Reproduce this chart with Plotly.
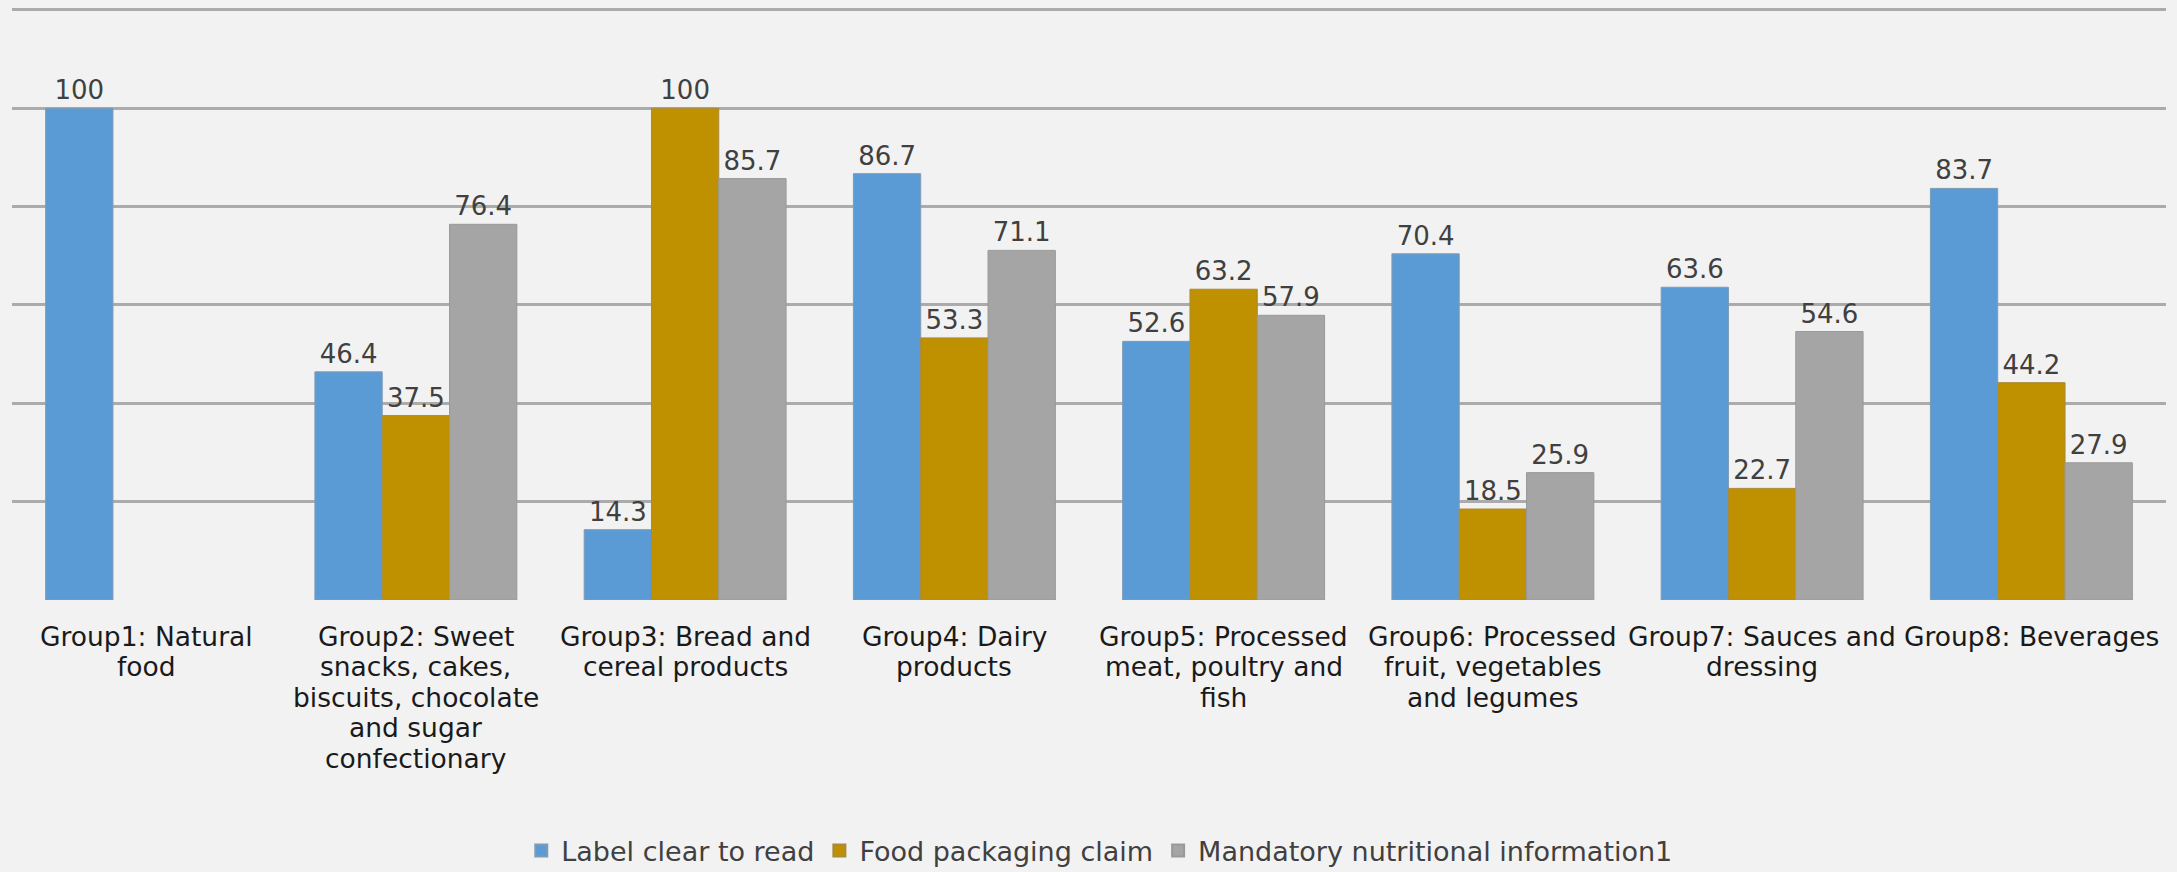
import plotly.graph_objects as go

categories = [
    "Group1: Natural<br>food",
    "Group2: Sweet<br>snacks, cakes,<br>biscuits, chocolate<br>and sugar<br>confectionary",
    "Group3: Bread and<br>cereal products",
    "Group4: Dairy<br>products",
    "Group5: Processed<br>meat, poultry and<br>fish",
    "Group6: Processed<br>fruit, vegetables<br>and legumes",
    "Group7: Sauces and<br>dressing",
    "Group8: Beverages",
]
label_clear = [100, 46.4, 14.3, 86.7, 52.6, 70.4, 63.6, 83.7]
packaging_claim = [None, 37.5, 100, 53.3, 63.2, 18.5, 22.7, 44.2]
mandatory_info = [None, 76.4, 85.7, 71.1, 57.9, 25.9, 54.6, 27.9]

series = [
    ("Label clear to read", label_clear, "#5B9BD5", "#7F9BB5"),
    ("Food packaging claim", packaging_claim, "#BF9000", "#A98A3A"),
    ("Mandatory nutritional information1", mandatory_info, "#A5A5A5", "#999999"),
]

FONT = "DejaVu Sans"
W, H = 2177, 872
M_T, M_B = 5, 272
PLOT_H = H - M_T - M_B

fig = go.Figure()
for name, vals, col, edge in series:
    fig.add_trace(go.Bar(
        name=name, x=categories, y=vals,
        marker=dict(color=col, line=dict(color=edge, width=1)),
        text=[("" if v is None else (f"{v:g}")) for v in vals],
        textposition="outside", cliponaxis=False,
        textfont=dict(family=FONT, size=26, color="#404040"),
    ))

# category labels: one annotation per wrapped line (tighter line spacing than tick labels allow)
LINE_GAP = 30.5     # px between lines
FIRST_OFFSET = 36   # px from plot bottom to first line centre
for cat in categories:
    for i, line in enumerate(cat.split("<br>")):
        fig.add_annotation(
            x=cat, xref="x", yref="paper",
            y=-(FIRST_OFFSET + i * LINE_GAP) / PLOT_H,
            text=line, showarrow=False, xanchor="center", yanchor="middle",
            font=dict(family=FONT, size=26.5, color="#1a1a1a"),
        )

fig.update_layout(
    width=W, height=H,
    margin=dict(l=12, r=11, t=M_T, b=M_B, autoexpand=False),
    paper_bgcolor="#F2F2F2", plot_bgcolor="#F2F2F2",
    barmode="group", bargap=0.25, bargroupgap=0,
    showlegend=True,
    legend=dict(orientation="h", x=0.505, xanchor="center",
                yref="container", y=21 / H, yanchor="middle",
                font=dict(family=FONT, size=27, color="#404040"),
                itemsizing="constant", traceorder="normal"),
    font=dict(family=FONT),
)
fig.update_xaxes(showgrid=False, showline=False, ticks="", showticklabels=False)
fig.update_yaxes(range=[0, 121], tickvals=[20, 40, 60, 80, 100, 120], showgrid=True,
                 gridcolor="#ABABAB", gridwidth=3,
                 showticklabels=False, zeroline=False,
                 showline=False, ticks="")

fig.write_html("out.html")
